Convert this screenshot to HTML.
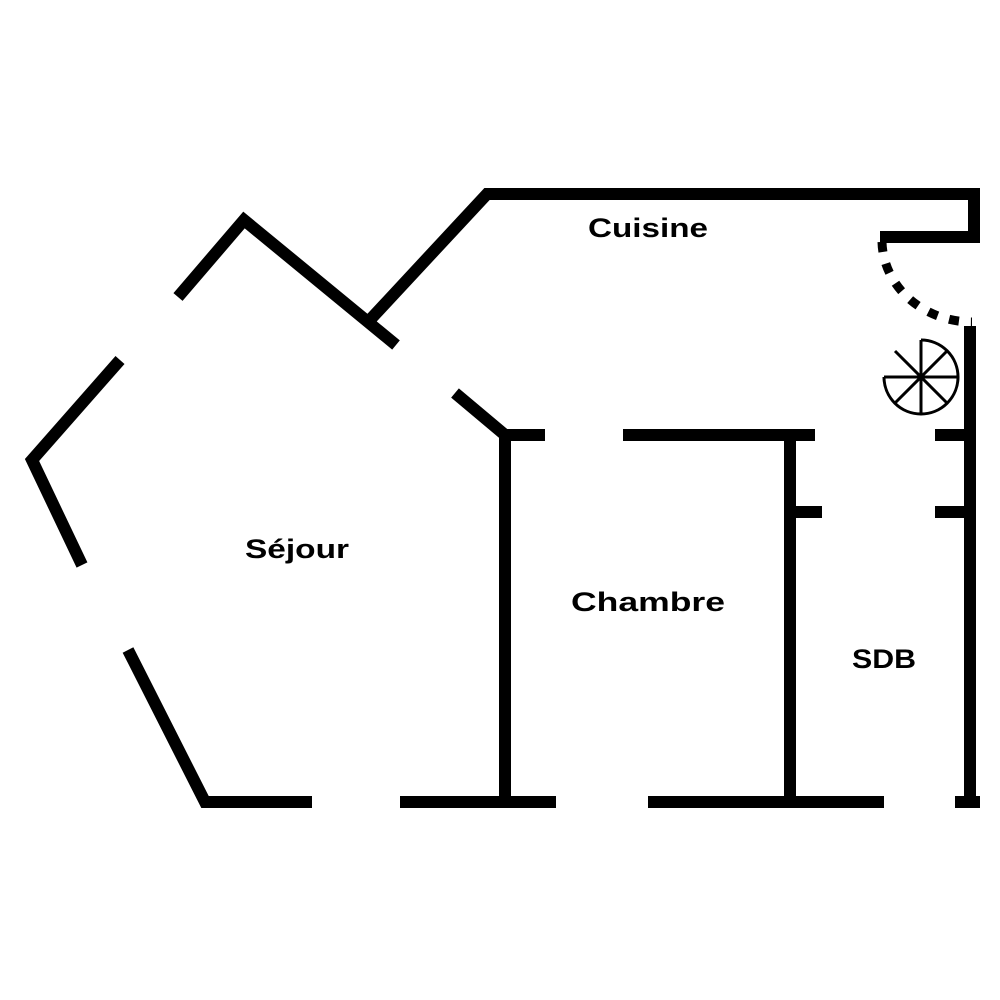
<!DOCTYPE html>
<html><head><style>html,body{margin:0;padding:0;background:#fff}svg{display:block}</style></head>
<body>
<svg width="1000" height="1000" viewBox="0 0 1000 1000" xmlns="http://www.w3.org/2000/svg">
<g fill="none" stroke="#000" stroke-width="12" stroke-linecap="butt" stroke-linejoin="miter">
<polyline points="368,322 487,194 974,194 974,237 880,237"/>
<polyline points="178,297 244,220 396,345"/>
<polyline points="120,360 32,460 82,565"/>
<polyline points="128,650 205,802 312,802"/>
<line x1="400" y1="802" x2="556" y2="802"/>
<line x1="648" y1="802" x2="884" y2="802"/>
<line x1="955" y1="802" x2="980" y2="802"/>
<polyline points="455,393 505,435 545,435"/>
<line x1="505" y1="435" x2="505" y2="802"/>
<line x1="623" y1="435" x2="815" y2="435"/>
<line x1="790" y1="435" x2="790" y2="802"/>
<line x1="790" y1="512" x2="822" y2="512"/>
<line x1="970" y1="326" x2="970" y2="808"/>
<line x1="935" y1="435" x2="970" y2="435"/>
<line x1="935" y1="512" x2="970" y2="512"/>
<path d="M882,242 A90,82 0 0 0 972,322" stroke-width="9" stroke-dasharray="10,12"/>
</g>
<g fill="none" stroke="#000" stroke-width="3">
<path d="M921,340 A37,37 0 1 1 884,377"/>
<line x1="921" y1="340" x2="921" y2="414"/>
<line x1="884" y1="377" x2="958" y2="377"/>
<line x1="895" y1="351" x2="947" y2="403"/>
<line x1="947" y1="351" x2="895" y2="403"/>
</g>
<g font-family="Liberation Sans, sans-serif" font-weight="bold" font-size="27" fill="#000">
<text x="588" y="237" textLength="120" lengthAdjust="spacingAndGlyphs">Cuisine</text>
<text x="245" y="558" textLength="104" lengthAdjust="spacingAndGlyphs">Séjour</text>
<text x="571" y="611" textLength="154" lengthAdjust="spacingAndGlyphs">Chambre</text>
<text x="852" y="668" textLength="64" lengthAdjust="spacingAndGlyphs">SDB</text>
</g>
</svg>
</body></html>
